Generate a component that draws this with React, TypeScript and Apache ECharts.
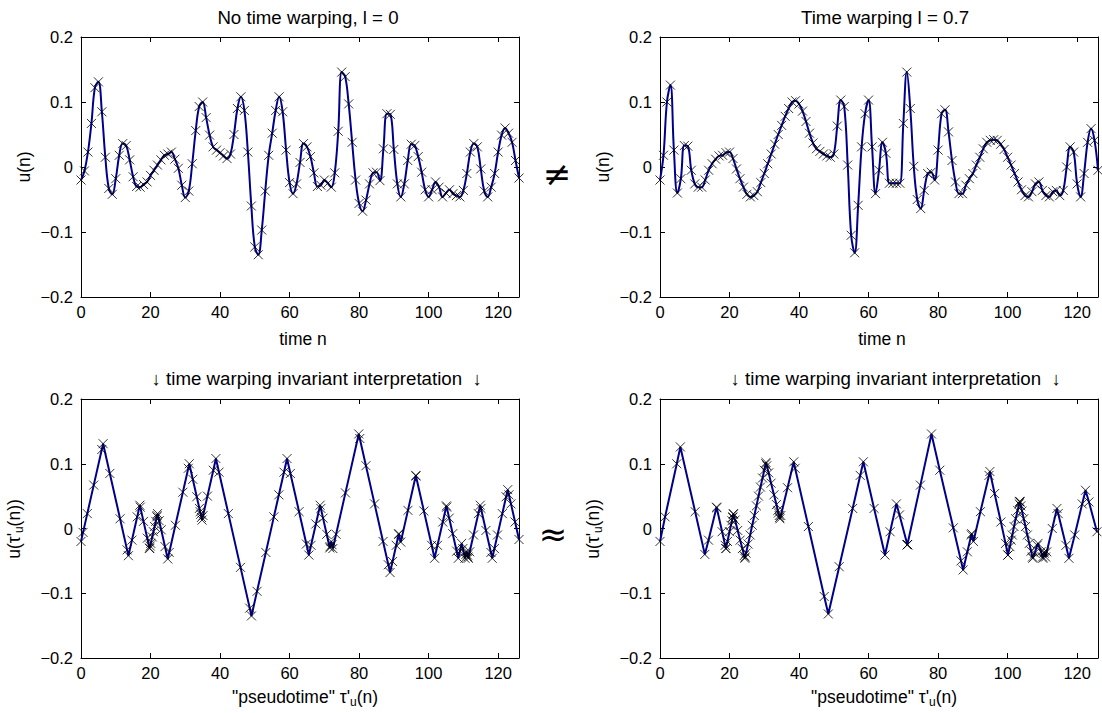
import React, { useEffect, useRef } from "react";
import * as echarts from "echarts";

// Sample index n = 0..126 (array index)
const uNoWarp = [
  -0.020, -0.006, 0.023, 0.067, 0.122, 0.131, 0.085, 0.015, -0.033, -0.042,
  -0.018, 0.018, 0.036, 0.033, 0.011, -0.015, -0.030, -0.031, -0.027, -0.023,
  -0.013, -0.005, 0.003, 0.011, 0.018, 0.020, 0.023, 0.012, -0.002, -0.028,
  -0.047, -0.037, 0.005, 0.056, 0.093, 0.100, 0.076, 0.049, 0.031, 0.026,
  0.022, 0.017, 0.013, 0.020, 0.050, 0.090, 0.108, 0.087, 0.023, -0.060,
  -0.123, -0.135, -0.097, -0.037, 0.018, 0.052, 0.087, 0.108, 0.085, 0.026,
  -0.024, -0.041, -0.026, 0.007, 0.036, 0.031, 0.016, -0.009, -0.030, -0.028,
  -0.020, -0.025, -0.031, -0.009, 0.055, 0.146, 0.139, 0.097, 0.038, -0.020,
  -0.056, -0.068, -0.051, -0.026, -0.009, -0.008, -0.021, 0.028, 0.082, 0.081,
  0.027, -0.026, -0.046, -0.026, 0.010, 0.035, 0.033, 0.016, -0.008, -0.035,
  -0.046, -0.035, -0.023, -0.031, -0.046, -0.040, -0.035, -0.041, -0.044, -0.046,
  -0.036, -0.010, 0.023, 0.036, 0.031, -0.003, -0.037, -0.046, -0.031, -0.010,
  0.023, 0.049, 0.060, 0.052, 0.038, 0.010, -0.017,
];

const uWarp = [
  -0.020, 0.018, 0.100, 0.126, 0.026, -0.040, -0.018, 0.033, 0.032, -0.005,
  -0.026, -0.031, -0.031, -0.020, -0.005, 0.005, 0.012, 0.017, 0.018, 0.022,
  0.023, 0.013, -0.003, -0.018, -0.031, -0.042, -0.046, -0.044, -0.038, -0.024,
  -0.010, 0.005, 0.020, 0.035, 0.050, 0.064, 0.078, 0.090, 0.100, 0.102,
  0.097, 0.086, 0.070, 0.052, 0.037, 0.028, 0.024, 0.020, 0.017, 0.015,
  0.020, 0.063, 0.103, 0.093, 0.003, -0.105, -0.132, -0.059, 0.031, 0.082,
  0.103, 0.031, -0.041, -0.005, 0.038, 0.021, -0.025, -0.025, -0.025, -0.025,
  0.067, 0.146, 0.090, 0.001, -0.050, -0.064, -0.036, -0.010, -0.008, -0.020,
  0.026, 0.082, 0.088, 0.054, 0.010, -0.023, -0.041, -0.041, -0.028, -0.018,
  -0.010, 0.003, 0.015, 0.028, 0.038, 0.041, 0.042, 0.041, 0.035, 0.027,
  0.015, 0.003, -0.010, -0.023, -0.035, -0.044, -0.046, -0.038, -0.026, -0.023,
  -0.036, -0.044, -0.046, -0.038, -0.036, -0.044, -0.036, 0.000, 0.031, 0.023,
  -0.026, -0.046, -0.010, 0.038, 0.059, 0.041, -0.005,
];

// pseudotime tau'_u(n) positions of each sample (read / estimated)
const tauNoWarp = [
  0, 0.59, 1.81, 3.66, 5.98, 6.36, 8.29, 11.24, 13.26, 13.64,
  14.65, 16.17, 16.92, 17.05, 17.98, 19.07, 19.7, 19.74, 19.91, 20.08,
  20.5, 20.84, 21.18, 21.51, 21.81, 21.89, 22.02, 22.48, 23.07, 24.16,
  24.96, 25.38, 27.15, 29.3, 30.86, 31.15, 32.16, 33.3, 34.06, 34.27,
  34.44, 34.65, 34.81, 35.11, 36.37, 38.06, 38.81, 39.7, 42.39, 45.89,
  48.54, 49.04, 50.64, 53.17, 55.48, 56.92, 58.39, 59.27, 60.24, 62.73,
  64.83, 65.55, 66.18, 67.57, 68.79, 69.0, 69.63, 70.68, 71.57, 71.65,
  71.99, 72.2, 72.45, 73.38, 76.07, 79.9, 80.2, 81.97, 84.45, 86.89,
  88.41, 88.91, 89.63, 90.68, 91.4, 91.44, 91.99, 94.05, 96.32, 96.36,
  98.64, 100.87, 101.71, 102.55, 104.07, 105.12, 105.2, 105.92, 106.93, 108.07,
  108.53, 108.99, 109.5, 109.84, 110.47, 110.72, 110.93, 111.19, 111.31, 111.4,
  111.82, 112.91, 114.3, 114.85, 115.06, 116.49, 117.92, 118.3, 118.93, 119.81,
  121.2, 122.29, 122.76, 123.1, 123.69, 124.87, 126.0,
];

const tauWarp = [
  0, 1.46, 4.83, 5.86, 10.11, 12.89, 13.95, 16.27, 16.31, 17.87,
  18.74, 18.96, 18.96, 19.4, 20.0, 20.4, 20.7, 20.9, 20.95, 21.1,
  21.11, 21.6, 22.35, 23.05, 23.7, 24.2, 24.4, 24.5, 24.75, 25.35,
  25.93, 26.53, 27.14, 27.74, 28.34, 28.9, 29.51, 29.99, 30.41, 30.5,
  30.73, 31.26, 31.95, 32.79, 33.49, 33.88, 34.06, 34.28, 34.41, 34.5,
  34.77, 36.69, 38.48, 38.87, 42.69, 47.24, 48.42, 51.55, 55.42, 57.59,
  58.5, 61.59, 64.72, 66.19, 68.01, 68.9, 71.16, 71.16, 71.16, 71.16,
  74.91, 78.1, 80.49, 84.37, 86.59, 87.2, 88.42, 89.55, 89.64, 90.16,
  92.17, 94.64, 94.9, 96.25, 98.06, 99.4, 100.09, 100.09, 100.65, 101.04,
  101.34, 101.85, 102.32, 102.89, 103.33, 103.46, 103.5, 103.54, 103.8, 104.15,
  104.63, 105.15, 105.67, 106.23, 106.75, 107.15, 107.23, 107.78, 108.5, 108.74,
  109.6, 110.05, 110.14, 110.48, 110.57, 110.92, 111.27, 112.84, 114.19, 114.54,
  116.77, 117.64, 119.31, 121.45, 122.41, 123.4, 125.7,
];

const xTicks = [0, 20, 40, 60, 80, 100, 120];
const yTicks = [-0.2, -0.1, 0, 0.1, 0.2];

const FONT = '"Liberation Sans", Arial, Helvetica, sans-serif';
const LINE_COLOR = "#00008b";
const X_MARK = "path://M0,0L10,10M10,0L0,10";

const grids = [
  { left: 81, top: 37, width: 438, height: 260 },
  { left: 660, top: 37, width: 438, height: 260 },
  { left: 81, top: 399, width: 438, height: 259 },
  { left: 660, top: 399, width: 438, height: 259 },
];

function fmtY(v: number) {
  const r = Math.round(v * 10) / 10;
  if (Math.abs(r) < 1e-9) return "0";
  return (r < 0 ? "\u2212" : "") + Math.abs(r).toFixed(1);
}

export default function App() {
  const ref = useRef<HTMLDivElement>(null);
  useEffect(() => {
    if (!ref.current) return;
    const chart = echarts.init(ref.current, null, { renderer: "svg" });

    const xAxes: any[] = [];
    const yAxes: any[] = [];
    const tickCommon = { inside: true, length: 5, lineStyle: { color: "#000", width: 1 } };
    const lineCommon = { show: true, onZero: false, lineStyle: { color: "#000", width: 1 } };
    for (let i = 0; i < 4; i++) {
      xAxes.push({
        gridIndex: i, type: "value", min: 0, max: 126, interval: 20, position: "bottom",
        axisLine: lineCommon, axisTick: tickCommon, splitLine: { show: false },
        axisLabel: {
          color: "#000", fontSize: 16.5, fontFamily: FONT, margin: 6,
          formatter: (v: number) => (xTicks.indexOf(Math.round(v)) >= 0 && Math.abs(v - Math.round(v)) < 1e-6 ? String(Math.round(v)) : ""),
        },
      });
      yAxes.push({
        gridIndex: i, type: "value", min: -0.2, max: 0.2, interval: 0.1, position: "left",
        axisLine: lineCommon, axisTick: tickCommon, splitLine: { show: false },
        axisLabel: {
          color: "#000", fontSize: 16.5, fontFamily: FONT, margin: 8,
          formatter: (v: number) => (yTicks.some((t) => Math.abs(t - v) < 1e-6) ? fmtY(v) : ""),
        },
      });
    }
    for (let i = 0; i < 4; i++) {
      xAxes.push({
        gridIndex: i, type: "value", min: 0, max: 126, interval: 20, position: "top",
        axisLine: lineCommon, axisTick: tickCommon, splitLine: { show: false }, axisLabel: { show: false },
      });
      yAxes.push({
        gridIndex: i, type: "value", min: -0.2, max: 0.2, interval: 0.1, position: "right",
        axisLine: lineCommon, axisTick: tickCommon, splitLine: { show: false }, axisLabel: { show: false },
      });
    }

    const panels = [
      { x: uNoWarp.map((_, n) => n), u: uNoWarp, smooth: 0.4 as any },
      { x: uWarp.map((_, n) => n), u: uWarp, smooth: 0.4 as any },
      { x: tauNoWarp, u: uNoWarp, smooth: false as any },
      { x: tauWarp, u: uWarp, smooth: false as any },
    ];
    const series: any[] = [];
    panels.forEach((p, i) => {
      const data = p.u.map((v, k) => [p.x[k], v]);
      series.push({
        type: "line", xAxisIndex: i, yAxisIndex: i, data, showSymbol: false, smooth: p.smooth,
        lineStyle: { color: LINE_COLOR, width: 2 }, itemStyle: { color: LINE_COLOR }, z: 2, silent: true,
      });
      series.push({
        type: "scatter", xAxisIndex: i, yAxisIndex: i, data, symbol: X_MARK, symbolSize: 9,
        itemStyle: { color: "none", borderColor: "#000", borderWidth: 1 }, z: 3, silent: true,
      });
    });

    const txt = (x: number, y: number, text: string, size: number, extra: any = {}, family = FONT) => {
      const { styleExtra, ...rest } = extra;
      return {
        type: "text", x, y, silent: true, ...rest,
        style: {
          text, fill: "#000", font: `${size}px ${family}`,
          align: "center", verticalAlign: "middle", textAlign: "center", textVerticalAlign: "middle",
          ...(styleExtra || {}),
        },
      };
    };
    const subRich = { s: { fontSize: 12, lineHeight: 12, verticalAlign: "bottom", fontFamily: FONT, fill: "#000" } };
    const graphics: any[] = [
      txt(308, 17, "No time warping, l = 0", 18.7),
      txt(885, 17, "Time warping l = 0.7", 18.7),
      txt(316.7, 378.5, "\u2193 time warping invariant interpretation  \u2193", 18.7),
      txt(895.7, 378.5, "\u2193 time warping invariant interpretation  \u2193", 18.7),
      txt(303, 339, "time n", 17.5),
      txt(882, 339, "time n", 17.5),
      txt(305, 697, "\"pseudotime\" \u03c4'{s|u}(n)", 17.5, { styleExtra: { rich: subRich, lineHeight: 22 } }),
      txt(884, 697, "\"pseudotime\" \u03c4'{s|u}(n)", 17.5, { styleExtra: { rich: subRich, lineHeight: 22 } }),
      txt(24, 167, "u(n)", 17.5, { rotation: Math.PI / 2 }),
      txt(603, 167, "u(n)", 17.5, { rotation: Math.PI / 2 }),
      txt(14, 529, "u(\u03c4'{s|u}(n))", 17.5, { rotation: Math.PI / 2, styleExtra: { rich: subRich, lineHeight: 22 } }),
      txt(593, 529, "u(\u03c4'{s|u}(n))", 17.5, { rotation: Math.PI / 2, styleExtra: { rich: subRich, lineHeight: 22 } }),
      txt(557, 174, "\u2260", 34, {}, '"DejaVu Sans", sans-serif'),
      txt(553, 534, "\u2248", 34, {}, '"DejaVu Sans", sans-serif'),
    ];

    chart.setOption({
      animation: false,
      backgroundColor: "#fff",
      grid: grids,
      xAxis: xAxes,
      yAxis: yAxes,
      series,
      graphic: { elements: graphics },
    });
    return () => chart.dispose();
  }, []);
  return (
    <div
      ref={ref}
      style={{ position: "fixed", left: 0, top: 0, width: 1102, height: 713, background: "#fff" }}
    />
  );
}
